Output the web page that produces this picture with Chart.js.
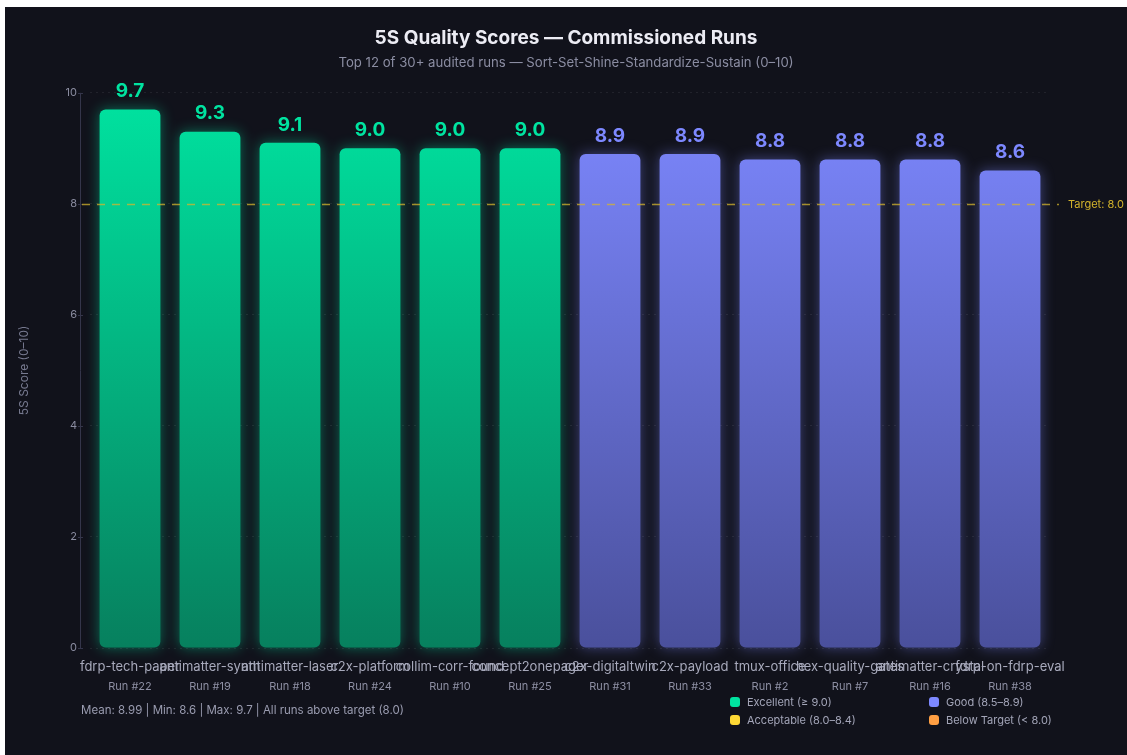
<!DOCTYPE html>
<html>
<head>
<meta charset="utf-8">
<script src="https://cdn.jsdelivr.net/npm/chart.js@4"></script>
<style>
  html, body { margin: 0; padding: 0; background: #ffffff; }
  body { width: 1127px; height: 755px; overflow: hidden; position: relative; font-family: Inter, "Noto Sans", sans-serif; }
  .card { position: absolute; left: 5px; top: 7px; width: 1122px; height: 748px; background: #11121b; }
  #scoreChart { position: absolute; left: 0; top: 0; }
  .stats { position: absolute; left: 76px; top: 696px; font-size: 11.5px; color: #9a9cb0; white-space: nowrap; }
  .legend-item { position: absolute; font-size: 11px; color: #a3a5b8; white-space: nowrap; line-height: 14px; }
  .legend-item .sw { display: inline-block; width: 10px; height: 10px; border-radius: 3px; margin-right: 7px; vertical-align: -1px; }
</style>
</head>
<body>
<div class="card">
  <canvas id="scoreChart" width="1122" height="748"></canvas>
  <div class="stats" id="stats"></div>
  <div id="legend"></div>
</div>
<script>
/* ---------- DATA ---------- */
const runNames = ["fdrp-tech-paper", "antimatter-synth", "antimatter-laser", "c2x-platform",
    "collim-corr-found", "concept2onepager", "c2x-digitaltwin", "c2x-payload",
    "tmux-office", "hex-quality-gates", "antimatter-crystal", "fdrp-on-fdrp-eval"];
const runIds = ["Run #22", "Run #19", "Run #18", "Run #24", "Run #10", "Run #25",
    "Run #31", "Run #33", "Run #2", "Run #7", "Run #16", "Run #38"];
const scores = [9.7, 9.3, 9.1, 9.0, 9.0, 9.0, 8.9, 8.9, 8.8, 8.8, 8.8, 8.6];
const yTicks = [0, 2, 4, 6, 8, 10];
const targetScore = 8.0;

const tierNames = ["Excellent (≥ 9.0)", "Good (8.5–8.9)", "Acceptable (8.0–8.4)", "Below Target (< 8.0)"];
const tierTop = ["#00e3a0", "#7d88ff", "#fdd835", "#ff9f43"];
const tierBottom = ["#07805e", "#4a509c", "#a08a1a", "#a0602a"];
const tierGlow = ["rgba(0,227,160,0.45)", "rgba(125,136,255,0.45)", "rgba(253,216,53,0.4)", "rgba(255,159,67,0.4)"];

function tierOf(v) {
    if (v >= 9.0) return 0;
    if (v >= 8.5) return 1;
    if (v >= 8.0) return 2;
    return 3;
}

/* ---------- PLUGINS ---------- */
// glow around each bar
const glowPlugin = {
    id: "glow",
    beforeDatasetDraw(chart, args) {
        const ctx = chart.ctx;
        args.meta.data.forEach((bar, i) => {
            ctx.save();
            ctx.shadowColor = tierGlow[tierOf(scores[i])];
            ctx.shadowBlur = 14;
            bar.draw(ctx, chart.chartArea);
            ctx.restore();
        });
        return false;
    }
};

// value labels, axis line and target line
const overlayPlugin = {
    id: "overlay",
    afterDraw(chart) {
        const ctx = chart.ctx;
        const area = chart.chartArea;
        const y = chart.scales.y;

        // y axis line + ticks
        ctx.save();
        ctx.strokeStyle = "#34354a";
        ctx.lineWidth = 1;
        ctx.beginPath();
        ctx.moveTo(area.left - 9.5, y.getPixelForValue(10));
        ctx.lineTo(area.left - 9.5, y.getPixelForValue(0));
        yTicks.forEach(t => {
            const py = Math.round(y.getPixelForValue(t)) + 0.5;
            ctx.moveTo(area.left - 12, py);
            ctx.lineTo(area.left - 7, py);
        });
        ctx.stroke();

        // target line
        const ty = Math.round(y.getPixelForValue(targetScore)) + 0.5;
        ctx.strokeStyle = "rgba(212,180,44,0.75)";
        ctx.lineWidth = 1.5;
        ctx.setLineDash([8, 7]);
        ctx.beginPath();
        ctx.moveTo(area.left - 8, ty);
        ctx.lineTo(area.right + 9, ty);
        ctx.stroke();
        ctx.setLineDash([]);
        ctx.fillStyle = "#d4b42c";
        ctx.font = "11px Inter";
        ctx.textAlign = "left";
        ctx.textBaseline = "middle";
        ctx.fillText("Target: " + targetScore.toFixed(1), area.right + 18, ty);

        // values above bars
        const meta = chart.getDatasetMeta(0);
        ctx.font = "bold 19px Inter";
        ctx.textAlign = "center";
        meta.data.forEach((bar, i) => {
            ctx.fillStyle = tierTop[tierOf(scores[i])];
            ctx.fillText(scores[i].toFixed(1), bar.x, bar.y - 18);
        });
        ctx.restore();
    }
};

/* ---------- CHART ---------- */
document.addEventListener("DOMContentLoaded", () => {
    const ctx = document.getElementById("scoreChart").getContext("2d");

    new Chart(ctx, {
        type: "bar",
        data: {
            labels: runNames,
            datasets: [{
                data: scores,
                backgroundColor: function(context) {
                    const chart = context.chart;
                    const area = chart.chartArea;
                    const t = tierOf(scores[context.dataIndex] || 0);
                    if (!area) return tierTop[t];
                    const g = chart.ctx.createLinearGradient(0, area.top, 0, area.bottom);
                    g.addColorStop(0, tierTop[t]);
                    g.addColorStop(1, tierBottom[t]);
                    return g;
                },
                borderWidth: 0,
                borderRadius: 6,
                borderSkipped: false,
                barPercentage: 0.76,
                categoryPercentage: 1.0
            }]
        },
        options: {
            responsive: false,
            animation: false,
            events: [],
            layout: { padding: { left: 0, right: 0, top: 0, bottom: 57 } },
            plugins: {
                legend: { display: false },
                tooltip: { enabled: false },
                title: {
                    display: true,
                    text: "5S Quality Scores — Commissioned Runs",
                    color: "#ececf4",
                    font: { family: "Inter", size: 19, weight: "bold" },
                    padding: { top: 19.5, bottom: 6 }
                },
                subtitle: {
                    display: true,
                    text: "Top 12 of 30+ audited runs — Sort-Set-Shine-Standardize-Sustain (0–10)",
                    color: "#8b8da2",
                    font: { family: "Inter", size: 13.2 },
                    padding: { top: 0, bottom: 21.7 }
                }
            },
            scales: {
                x: {
                    offset: true,
                    grid: { display: false, drawTicks: false },
                    border: { display: false },
                    ticks: {
                        color: "#a8aabc",
                        font: { family: "Inter", size: 13 },
                        padding: 11,
                        autoSkip: false,
                        maxRotation: 0,
                        minRotation: 0
                    },
                    afterFit: scale => { scale.height = 28; }
                },
                run: {
                    type: "category",
                    position: "bottom",
                    labels: runIds,
                    offset: true,
                    grid: { display: false, drawTicks: false },
                    border: { display: false },
                    ticks: {
                        color: "#8d8fa3",
                        font: { family: "Inter", size: 11 },
                        padding: 4,
                        autoSkip: false,
                        maxRotation: 0,
                        minRotation: 0
                    },
                    afterFit: scale => { scale.height = 22; }
                },
                y: {
                    min: 0,
                    max: 10,
                    afterBuildTicks: scale => { scale.ticks = yTicks.map(v => ({ value: v })); },
                    grid: { color: "rgba(255,255,255,0.07)", drawTicks: false },
                    border: { display: false, dash: [2, 4] },
                    ticks: {
                        color: "#8a8ca0",
                        font: { family: "Inter", size: 11 },
                        padding: 13
                    },
                    title: {
                        display: true,
                        text: "5S Score (0–10)",
                        color: "#777a90",
                        font: { family: "Inter", size: 12 },
                        padding: { top: 12, bottom: 0 }
                    },
                    afterFit: scale => { scale.width = 85; }
                },
                // empty right gutter so the title stays centred on the card
                gutter: {
                    type: "linear",
                    position: "right",
                    grid: { display: false, drawTicks: false },
                    border: { display: false },
                    ticks: { display: false },
                    afterFit: scale => { scale.width = 77; }
                }
            }
        },
        plugins: [glowPlugin, overlayPlugin]
    });

    /* ---------- STATS + LEGEND ---------- */
    const mean = scores.reduce((a, b) => a + b, 0) / scores.length;
    const minV = Math.min(...scores), maxV = Math.max(...scores);
    const allAbove = scores.every(v => v >= targetScore);
    document.getElementById("stats").textContent =
        "Mean: " + mean.toFixed(2) + " | Min: " + minV.toFixed(1) + " | Max: " + maxV.toFixed(1) +
        " | " + (allAbove ? "All runs above target" : "Some runs below target") + " (" + targetScore.toFixed(1) + ")";

    const legendPos = [[725, 688], [924, 688], [725, 706], [924, 706]];
    const legend = document.getElementById("legend");
    tierNames.forEach((name, i) => {
        const item = document.createElement("div");
        item.className = "legend-item";
        item.style.left = legendPos[i][0] + "px";
        item.style.top = legendPos[i][1] + "px";
        item.innerHTML = '<span class="sw" style="background:' + tierTop[i] + '"></span>' + name;
        legend.appendChild(item);
    });
});
</script>
</body>
</html>
